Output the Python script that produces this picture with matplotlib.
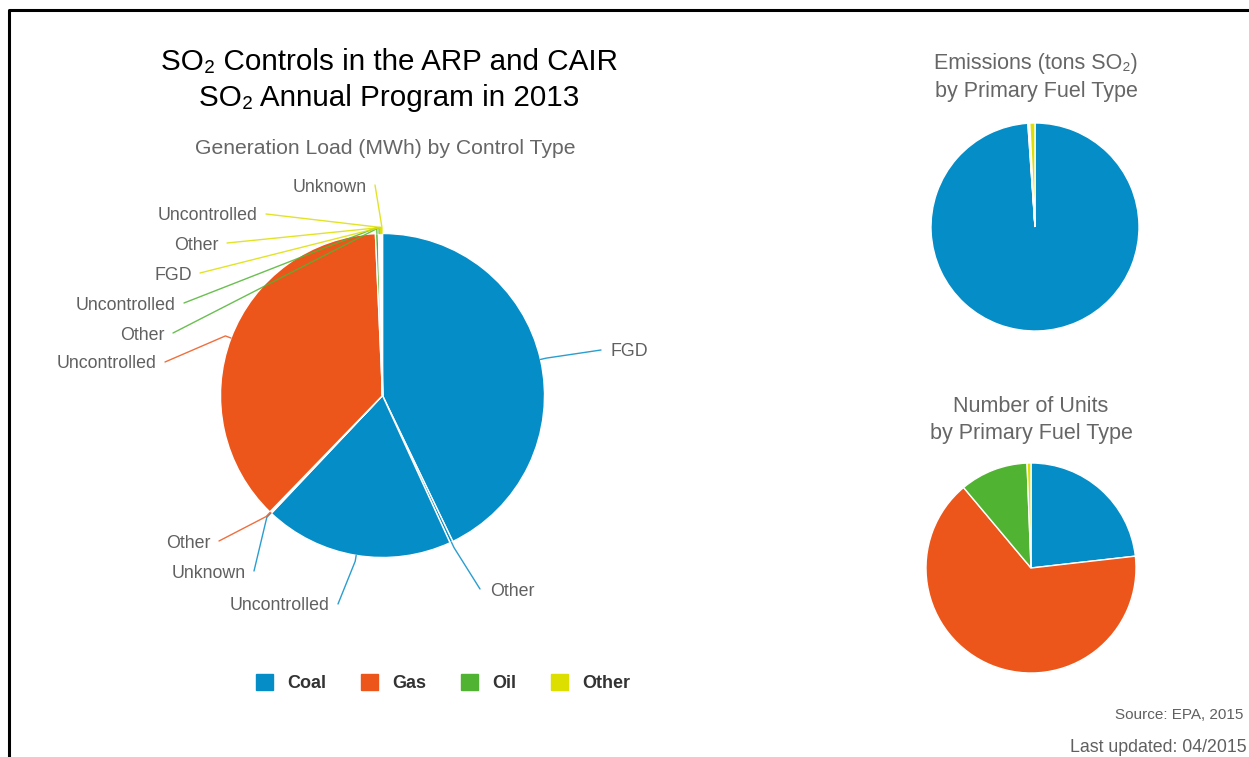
import matplotlib.pyplot as plt
from matplotlib.patches import Patch
import numpy as np

plt.rcParams['font.family'] = ['Liberation Sans', 'DejaVu Sans']

# --- data ---
fuel_names = ['Coal', 'Gas', 'Oil', 'Other']
fuel_colors = ['#058DC7', '#ED561B', '#50B432', '#DDDF00']

# generation load (% of MWh) by fuel and control type
gen_labels = ['FGD', 'Other', 'Uncontrolled', 'Unknown',
              'Other', 'Uncontrolled',
              'Uncontrolled', 'Other',
              'FGD', 'Other', 'Uncontrolled', 'Unknown']
gen_fuel = [0, 0, 0, 0, 1, 1, 2, 2, 3, 3, 3, 3]
gen_values = [42.9, 0.3, 18.9, 0.1,
              0.1, 37.1,
              0.3, 0.15,
              0.05, 0.05, 0.05, 0.1]

emis_values = [98.9, 0.1, 0.2, 0.8]      # tons SO2, % by fuel
units_values = [23.2, 65.7, 10.5, 0.6]   # number of units, % by fuel

# label anchor positions (pixels) for the big pie
lab_pos = [(611, 352, 'left'), (490, 591, 'left'), (330, 606, 'right'), (246, 573, 'right'),
           (211, 543, 'right'), (157, 364, 'right'),
           (176, 305, 'right'), (165, 335, 'right'),
           (192, 275, 'right'), (219, 245, 'right'), (258, 216, 'right'), (367, 187, 'right')]

W, H = 1249, 757
fig = plt.figure(figsize=(W / 100, H / 100), dpi=100)
ax = fig.add_axes([0, 0, 1, 1])


def Y(y):
    return H - y


gray = '#606060'

# big pie
cx, cy, r = 382.5, 395.5, 162
wedges, _ = ax.pie(gen_values, colors=[fuel_colors[f] for f in gen_fuel],
                   startangle=90, counterclock=False, center=(cx, Y(cy)), radius=r,
                   wedgeprops=dict(edgecolor='white', linewidth=1))

for w, lab, f, (lx, ly, ha) in zip(wedges, gen_labels, gen_fuel, lab_pos):
    mid = np.deg2rad((w.theta1 + w.theta2) / 2)
    ex, ey = cx + r * np.cos(mid), Y(cy) + r * np.sin(mid)
    ox, oy = cx + (r + 6) * np.cos(mid), Y(cy) + (r + 6) * np.sin(mid)
    endx = lx + 8 if ha == 'right' else lx - 10
    ax.plot([ex, ox, endx], [ey, oy, Y(ly) + 2], color=fuel_colors[f],
            lw=1, alpha=0.85, solid_capstyle='round')
    ax.text(lx, Y(ly), lab, ha=ha, va='center', fontsize=12.8, color=gray)

# small pies
ax.pie(emis_values, colors=fuel_colors, startangle=90, counterclock=False,
       center=(1035, Y(227)), radius=104,
       wedgeprops=dict(edgecolor='white', linewidth=1))
ax.pie(units_values, colors=fuel_colors, startangle=90, counterclock=False,
       center=(1031, Y(568)), radius=105,
       wedgeprops=dict(edgecolor='white', linewidth=1))

ax.set_xlim(0, W)
ax.set_ylim(0, H)
ax.set_aspect('equal')
ax.axis('off')

# titles
ax.text(389, Y(62), 'SO\u2082 Controls in the ARP and CAIR', ha='center', va='center',
        fontsize=21.3, color='black')
ax.text(389, Y(98), 'SO\u2082 Annual Program in 2013', ha='center', va='center',
        fontsize=21.3, color='black')
ax.text(385, Y(149), 'Generation Load (MWh) by Control Type', ha='center', va='center',
        fontsize=15.2, color='#666666')
ax.text(1036, Y(63), 'Emissions (tons SO\u2082)', ha='center', va='center',
        fontsize=15.5, color='#666666')
ax.text(1036, Y(92), 'by Primary Fuel Type', ha='center', va='center',
        fontsize=15.5, color='#666666')
ax.text(1031, Y(406), 'Number of Units', ha='center', va='center',
        fontsize=15.5, color='#666666')
ax.text(1031, Y(434), 'by Primary Fuel Type', ha='center', va='center',
        fontsize=15.5, color='#666666')

ax.text(1243, Y(715), 'Source: EPA, 2015', ha='right', va='center', fontsize=11, color=gray)
ax.text(1247, Y(747), 'Last updated: 04/2015', ha='right', va='center', fontsize=12.8, color=gray)

# legend
handles = [Patch(facecolor=c, edgecolor=c) for c in fuel_colors]
leg = ax.legend(handles, fuel_names, loc='center', ncol=4, frameon=False,
                bbox_to_anchor=(443 / W, 1 - 683 / H), bbox_transform=fig.transFigure,
                handlelength=0.95, handleheight=0.95, handletextpad=0.8, columnspacing=1.9,
                prop=dict(size=13, weight='bold'))
for t in leg.get_texts():
    t.set_color('#333333')

# frame border
ax.plot([9, 9, W], [0, Y(10), Y(10)], color='black', lw=2.2, clip_on=False)

fig.savefig('out.png', dpi=100)
